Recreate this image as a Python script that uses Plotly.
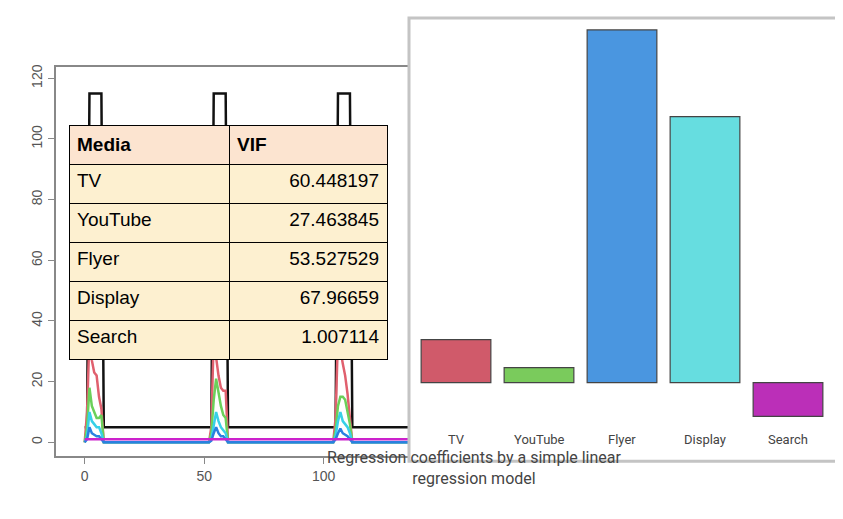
import plotly.graph_objects as go

W, H = 843, 519
def px(x): return x / W
def py(y): return 1 - y / H

# ---- left line chart data (breakpoints) ----
t_black = [0, 1, 2, 7, 8, 52, 53, 54, 59, 60, 104, 105, 106, 111, 112, 140]
v_black = [5, 5, 115, 115, 5, 5, 5, 115, 115, 5, 5, 5, 115, 115, 5, 5]
t_spk = [0, 1, 2, 3, 4, 5, 6, 7, 8, 52, 53, 54, 55, 56, 57, 58, 59, 60, 104, 105, 106, 107, 108, 109, 110, 111, 112, 140]
v_red = [0, 10, 35, 27, 23, 22, 15, 11, 0, 0, 5, 35, 28, 22, 18, 17, 17, 0, 0, 8, 35, 30, 26, 22, 16, 8, 0, 0]
v_green = [0, 5, 18, 12, 10, 8, 8, 9, 0, 0, 3, 14, 21, 16, 12, 9, 8, 0, 0, 4, 12, 15, 15, 14, 10, 6, 0, 0]
v_cyan = [0, 2, 10, 7, 6, 5, 5, 3, 0, 0, 1, 6, 10, 7, 5, 4, 3, 0, 0, 2, 7, 10, 7, 6, 5, 3, 0, 0]
v_blue = [0, 1, 5, 3, 2.5, 2, 2, 1, 0, 0, 0.5, 3, 5, 3, 2, 2, 1, 0, 0, 1, 3, 4.5, 3, 2.5, 2, 1, 0, 0]
t_mag = [0, 140]
v_mag = [1, 1]

# ---- VIF table ----
media = ["TV", "YouTube", "Flyer", "Display", "Search"]
vif = ["60.448197", "27.463845", "53.527529", "67.96659", "1.007114"]

# ---- regression coefficient bars ----
coef_cats = ["TV", "YouTube", "Flyer", "Display", "Search"]
coef_vals = [4.3, 1.5, 35.4, 26.7, -3.4]
coef_colors = ["#d05a6a", "#7acb5c", "#4a96e0", "#66dde0", "#bb2fb8"]

fig = go.Figure()
for t, v, c in [(t_black, v_black, "#111111"), (t_spk, v_red, "#e0606e"),
                (t_spk, v_green, "#6bd05a"), (t_spk, v_cyan, "#38d0e8"),
                (t_spk, v_blue, "#2a80e0"), (t_mag, v_mag, "#cc22cc")]:
    fig.add_trace(go.Scatter(x=t, y=v, mode="lines", line=dict(color=c, width=2.5),
                             xaxis="x", yaxis="y", showlegend=False))

fig.add_trace(go.Table(
    domain=dict(x=[px(61), px(379)], y=[py(352), py(116)]),
    columnwidth=[160, 158],
    header=dict(values=["<b>Media</b>", "<b>VIF</b>"], fill_color="#fce4d0",
                line_color="black", align="left", height=39,
                font=dict(family="Liberation Sans, Arial", size=19, color="black")),
    cells=dict(values=[media, vif], fill_color="#fdf0d0", line_color="black",
               align=["left", "right"], height=39,
               font=dict(family="Liberation Sans, Arial", size=19, color="black"))))

fig.add_trace(go.Bar(x=coef_cats, y=coef_vals, base=0, width=0.84,
                     marker=dict(color=coef_colors, line=dict(color="#444", width=1.2)),
                     xaxis="x2", yaxis="y2", showlegend=False))

for c, in zip(coef_cats):
    fig.add_annotation(x=c, y=-5.7, xref="x2", yref="y2", text=c, showarrow=False,
                       font=dict(family="Roboto", size=13, color="#444"))

fig.add_shape(type="rect", xref="paper", yref="paper", x0=px(401), x1=px(831),
              y0=py(453), y1=py(8), line=dict(color="#c4c4c4", width=3))
fig.add_annotation(xref="paper", yref="paper", x=px(616), y=py(482),
                   text="Regression coefficients by a simple linear<br>regression model",
                   showarrow=False, font=dict(family="Roboto", size=16, color="#444"))

gray = "#888"
fig.update_layout(
    width=W, height=H, margin=dict(l=0, r=0, t=0, b=0),
    plot_bgcolor="white", paper_bgcolor="white",
    xaxis=dict(domain=[px(48), px(400)], range=[-12, 135.3], showgrid=False, zeroline=False,
               showline=True, linecolor=gray, linewidth=2, mirror=True,
               tickvals=[0, 50, 100], ticks="outside", tickcolor=gray, ticklen=6,
               tickfont=dict(family="Liberation Sans", size=14, color="#555")),
    yaxis=dict(domain=[py(448), py(57)], range=[-4.6, 123.8], showgrid=False, zeroline=False,
               showline=True, linecolor=gray, linewidth=2, mirror=True,
               tickvals=[0, 20, 40, 60, 80, 100, 120], ticks="outside", tickcolor=gray,
               ticklen=6, tickangle=-90,
               tickfont=dict(family="Liberation Sans", size=14, color="#555")),
    xaxis2=dict(domain=[px(406.5), px(821.5)], range=[-0.5, 4.5], anchor="y2",
                showgrid=False, zeroline=False, showticklabels=False, showline=False),
    yaxis2=dict(domain=[py(434), py(4)], range=[-6, 37], anchor="x2",
                showgrid=False, zeroline=False, showticklabels=False, showline=False),
)
fig.write_html("out.html")
